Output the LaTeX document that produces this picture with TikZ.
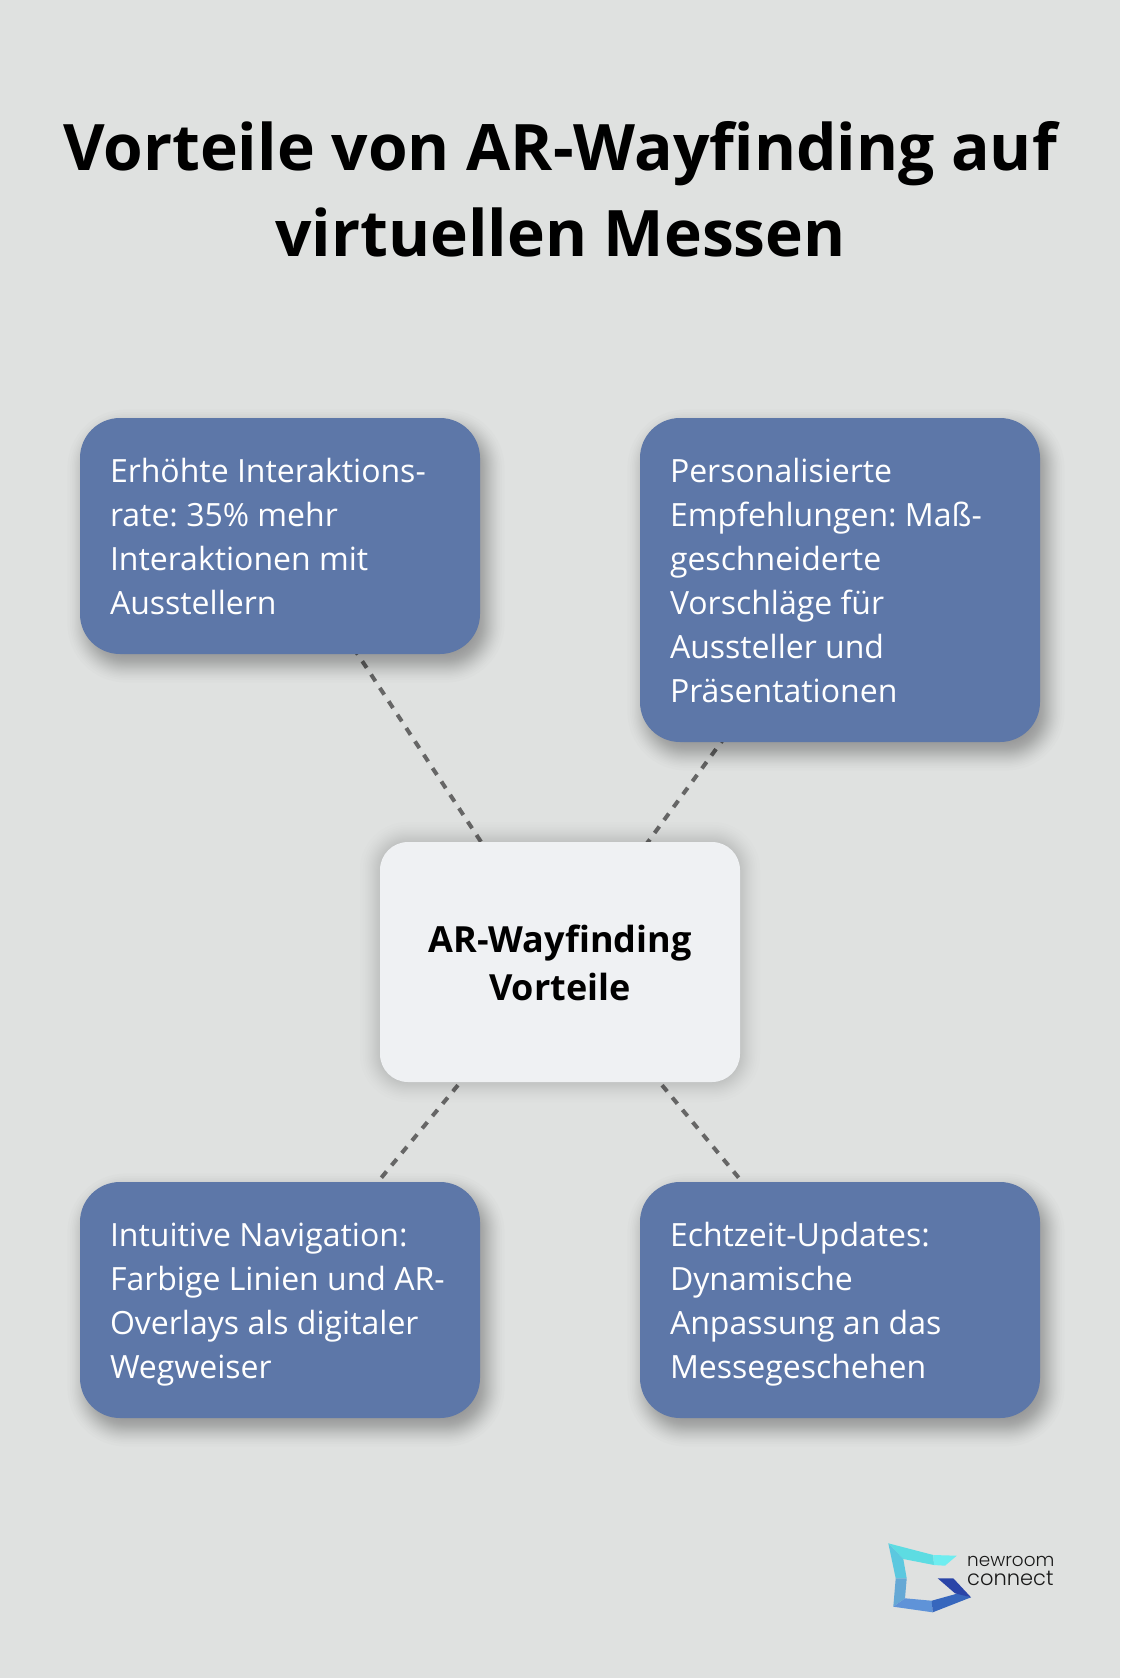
\documentclass[tikz,border=0pt]{standalone}
\usepackage{fontspec}
\setmainfont{Open Sans}
\newfontfamily\logofont{Poppins Light}
\usetikzlibrary{calc}
\frenchspacing
\pgfdeclarelayer{bglayer}
\pgfdeclarelayer{connlayer}
\pgfdeclarelayer{shadlayer}
\pgfsetlayers{bglayer,connlayer,shadlayer,main}
\definecolor{bgc}{HTML}{DFE1E0}
\definecolor{bluec}{HTML}{5D77A8}
\definecolor{centerc}{HTML}{EFF1F3}
\definecolor{dashc}{HTML}{666666}
\newcommand{\st}{\rule[-10pt]{0pt}{44pt}}
\newcommand{\sq}{\hspace{8.3pt}}
\newcommand{\softshadow}[6]{% node, dx, dy, spread, radius, opacity
  \foreach \s in {1,...,30}{
    \pgfmathsetmacro{\sp}{#4*(1-2*acos(1-2*(\s-0.5)/30)/180)}
    \pgfmathsetmacro{\rr}{max(#5+\sp,4)}
    \fill[black,fill opacity=#6,rounded corners=\rr pt]
      ($(#1.south west)+(#2-\sp,#3+\sp)$) rectangle ($(#1.north east)+(#2+\sp,#3-\sp)$);
  }}
\tikzset{
  x=1pt,y=-1pt,
  titletext/.style={font=\fontsize{64.1}{86}\selectfont\bfseries,text=black,anchor=base,inner sep=0pt},
  bluebox/.style={fill=bluec,rounded corners=40pt,text=white,text width=340pt,inner xsep=30pt,inner ysep=0pt,
    minimum height=#1,align=left,font=\fontsize{32}{44}\selectfont},
  centerbox/.style={fill=centerc,rounded corners=28pt,text=black,minimum width=360pt,minimum height=240pt,
    inner sep=0pt,align=center,font=\fontsize{36}{48}\selectfont\bfseries},
  connector/.style={draw=dashc,line width=4pt,dash pattern=on 8pt off 8pt},
  logotext/.style={font=\logofont\fontsize{#1}{21}\selectfont,text=black!90,anchor=base west,inner sep=0pt},
}
\begin{document}
\begin{tikzpicture}
\useasboundingbox (0,0) rectangle (1120,1678);
\begin{pgfonlayer}{bglayer}
\fill[bgc] (0,0) rectangle (1120,1678);
\end{pgfonlayer}
\node[titletext] (t1) at (560,170.5) {Vorteile von AR-Wayfinding auf};
\node[titletext] (t2) at (560.5,256.5) {virtuellen Messen};
\node[bluebox=236pt] (a) at (280,536) {\st Erhöhte\sq Interaktions-\\rate:\sq 35\%\sq mehr\\Interaktionen\sq mit\\\st Ausstellern};
\node[bluebox=324pt] (b) at (840,580) {\st Personalisierte\\Empfehlungen:\sq Maß-\\geschneiderte\\Vorschläge\sq für\\Aussteller\sq und\\\st Präsentationen};
\node[bluebox=236pt] (c) at (280,1300) {\st Intuitive\sq Navigation:\\Farbige\sq Linien\sq und\sq AR-\\Overlays\sq als\sq digitaler\\\st Wegweiser};
\node[bluebox=236pt] (d) at (840,1300) {\st Echtzeit-Updates:\\Dynamische\\Anpassung\sq an\sq das\\\st Messegeschehen};
\node[centerbox] (m) at (560,962) {\rule{0pt}{29.5pt}AR-Wayfinding\\Vorteile};
\begin{pgfonlayer}{connlayer}
\draw[connector] (m.center) -- (a.center);
\draw[connector] (m.center) -- (b.center);
\draw[connector] (m.center) -- (c.center);
\draw[connector] (m.center) -- (d.center);
\end{pgfonlayer}
\begin{pgfonlayer}{shadlayer}
\softshadow{a}{6}{10}{22}{40}{0.012}
\softshadow{b}{6}{10}{22}{40}{0.012}
\softshadow{c}{6}{10}{22}{40}{0.012}
\softshadow{d}{6}{10}{22}{40}{0.012}
\softshadow{m}{0}{0}{24}{28}{0.006}
\end{pgfonlayer}
% logo
\begin{scope}[shift={(860,1510)}]
\fill[fill={rgb,255:red,93;green,220;blue,226}] (28.3,33.3) -- (73.3,45) -- (74,55) -- (43.3,49) -- cycle;
\fill[fill={rgb,255:red,110;green,237;blue,240}] (73.3,45) -- (96.7,45.7) -- (85,55.7) -- (74,55) -- cycle;
\fill[fill={rgb,255:red,92;green,200;blue,223}] (28.3,33.3) -- (43.3,49) -- (46.7,68.3) -- (35.7,68.3) -- cycle;
\fill[fill={rgb,255:red,101;green,168;blue,213}] (35.7,68.3) -- (46.7,68.3) -- (45,88.3) -- (33.3,96.7) -- cycle;
\fill[fill={rgb,255:red,95;green,147;blue,216}] (33.3,96.7) -- (45,88.3) -- (71.7,90.7) -- (72.7,102.3) -- cycle;
\fill[fill={rgb,255:red,55;green,103;blue,189}] (71.7,90.7) -- (98.3,83.3) -- (111,87.3) -- (72.7,102.3) -- cycle;
\fill[fill={rgb,255:red,42;green,69;blue,168}] (77.7,68.3) -- (93.3,68.3) -- (111,87.3) -- (95,83.3) -- cycle;
\end{scope}
\node[logotext=18.4] (l1) at (967,1566) {newroom};
\node[logotext=21] (l2) at (967,1585) {connect};
\end{tikzpicture}
\end{document}
